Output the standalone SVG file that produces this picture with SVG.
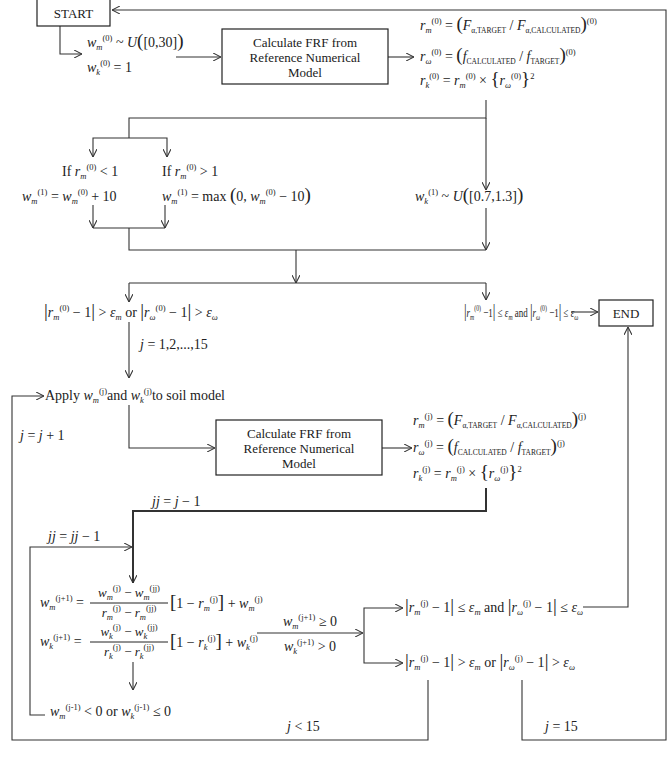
<svg xmlns="http://www.w3.org/2000/svg" width="669" height="766" viewBox="0 0 669 766">
<style>
.bx{fill:#fff;stroke:#222;stroke-width:1.2}
.t{font-family:"Liberation Serif","Times New Roman",serif;font-size:13px;fill:#1a1a1a}
.m{font-family:"Liberation Serif","Times New Roman",serif;font-size:14px;fill:#222}
.f{font-size:13px}
.i{font-style:italic}
.sb{font-size:8.5px;baseline-shift:-3px}
.sp{font-size:8.5px;baseline-shift:6px}
.sc{font-size:7.5px;baseline-shift:-3px}
.bg{font-size:19px}
.s{font-size:12.5px}
.s .sb{font-size:8px;baseline-shift:-3px}
.s .sp{font-size:8px;baseline-shift:5.5px}
.s .bg{font-size:18px}
.c path{fill:none;stroke:#333;stroke-width:1.1}
</style>
<defs>
<marker id="a" viewBox="0 0 10 10" refX="10" refY="5" markerWidth="8" markerHeight="8" markerUnits="userSpaceOnUse" orient="auto">
<path d="M0,0 L10,5 L0,10" fill="none" stroke="#333" stroke-width="1.3"/>
</marker>
</defs>

<g class="c" id="connectors">
<path d="M60 26 V54 H82" marker-end="url(#a)"/>
<path d="M176 57 H221" marker-end="url(#a)"/>
<path d="M388 57 H414" marker-end="url(#a)"/>
<path d="M522 680 V740 H666 V10 H112" marker-end="url(#a)"/>
<path d="M486 100 V118 H129 V138"/>
<path d="M129 138 H93 V157" marker-end="url(#a)"/>
<path d="M129 138 H167 V157" marker-end="url(#a)"/>
<path d="M486 118 V190" marker-end="url(#a)"/>
<path d="M93 205 V228" marker-end="url(#a)"/>
<path d="M165 205 V228" marker-end="url(#a)"/>
<path d="M93 228 H165"/>
<path d="M129 228 V250 H486"/>
<path d="M486 208 V250" marker-end="url(#a)"/>
<path d="M296 250 V283" marker-end="url(#a)"/>
<path d="M129 283 H486"/>
<path d="M129 283 V302" marker-end="url(#a)"/>
<path d="M486 283 V300" marker-end="url(#a)"/>
<path d="M571 312 H598" marker-end="url(#a)"/>
<path d="M129 322 V378" marker-end="url(#a)"/>
<path d="M428 680 V740 H12 V396 H44" marker-end="url(#a)"/>
<path d="M129 405 V448 H215" marker-end="url(#a)"/>
<path d="M382 448 H412" marker-end="url(#a)"/>
<path d="M486 488 V511 H133 V583" style="stroke-width:2" marker-end="url(#a)"/>
<path d="M45 715 H30 V547 H132" marker-end="url(#a)"/>
<path d="M133 662 V690" marker-end="url(#a)"/>
<path d="M257 633 H363" marker-end="url(#a)"/>
<path d="M364 633 V608 H403" marker-end="url(#a)"/>
<path d="M364 633 V663 H403" marker-end="url(#a)"/>
<path d="M583 607 H628 V327" marker-end="url(#a)"/>
</g>

<g id="start">
<rect class="bx" x="37" y="-1" width="73" height="27"/>
<text class="t" x="73.5" y="18" text-anchor="middle">START</text>
</g>

<g id="init">
<text class="m" x="87" y="47"><tspan class="i">w</tspan><tspan class="sb i">m</tspan><tspan class="sp">(0)</tspan> ~ <tspan class="i">U</tspan><tspan class="bg">(</tspan>[0,30]<tspan class="bg">)</tspan></text>
<text class="m" x="87" y="72"><tspan class="i">w</tspan><tspan class="sb i">k</tspan><tspan class="sp">(0)</tspan> = 1</text>
</g>

<g id="calc1">
<rect class="bx" x="222" y="29" width="166" height="55"/>
<text class="t" x="305" y="47" text-anchor="middle">Calculate FRF from</text>
<text class="t" x="305" y="62" text-anchor="middle">Reference Numerical</text>
<text class="t" x="305" y="77" text-anchor="middle">Model</text>
</g>

<g id="ratios0">
<text class="m" x="420" y="30"><tspan class="i">r</tspan><tspan class="sb i">m</tspan><tspan class="sp">(0)</tspan> = <tspan class="bg">(</tspan><tspan class="i">F</tspan><tspan class="sc">α,TARGET</tspan> / <tspan class="i">F</tspan><tspan class="sc">α,CALCULATED</tspan><tspan class="bg">)</tspan><tspan class="sp">(0)</tspan></text>
<text class="m" x="420" y="61"><tspan class="i">r</tspan><tspan class="sb i">ω</tspan><tspan class="sp">(0)</tspan> = <tspan class="bg">(</tspan><tspan class="i">f</tspan><tspan class="sc">CALCULATED</tspan> / <tspan class="i">f</tspan><tspan class="sc">TARGET</tspan><tspan class="bg">)</tspan><tspan class="sp">(0)</tspan></text>
<text class="m" x="420" y="85"><tspan class="i">r</tspan><tspan class="sb i">k</tspan><tspan class="sp">(0)</tspan> = <tspan class="i">r</tspan><tspan class="sb i">m</tspan><tspan class="sp">(0)</tspan> × <tspan class="bg">{</tspan><tspan class="i">r</tspan><tspan class="sb i">ω</tspan><tspan class="sp">(0)</tspan><tspan class="bg">}</tspan><tspan class="sp">2</tspan></text>
</g>

<g id="branch-lt">
<text class="m" x="62" y="176">If <tspan class="i">r</tspan><tspan class="sb i">m</tspan><tspan class="sp">(0)</tspan> &lt; 1</text>
<text class="m" x="22" y="201"><tspan class="i">w</tspan><tspan class="sb i">m</tspan><tspan class="sp">(1)</tspan> = <tspan class="i">w</tspan><tspan class="sb i">m</tspan><tspan class="sp">(0)</tspan> + 10</text>
</g>

<g id="branch-gt">
<text class="m" x="162" y="176">If <tspan class="i">r</tspan><tspan class="sb i">m</tspan><tspan class="sp">(0)</tspan> &gt; 1</text>
<text class="m" x="162" y="201"><tspan class="i">w</tspan><tspan class="sb i">m</tspan><tspan class="sp">(1)</tspan> = max <tspan class="bg">(</tspan>0, <tspan class="i">w</tspan><tspan class="sb i">m</tspan><tspan class="sp">(0)</tspan> − 10<tspan class="bg">)</tspan></text>
</g>

<g id="wk1">
<text class="m" x="415" y="201"><tspan class="i">w</tspan><tspan class="sb i">k</tspan><tspan class="sp">(1)</tspan> ~ <tspan class="i">U</tspan><tspan class="bg">(</tspan>[0.7,1.3]<tspan class="bg">)</tspan></text>
</g>

<g id="cond0-fail">
<text class="m" x="44" y="317"><tspan class="bg">|</tspan><tspan class="i">r</tspan><tspan class="sb i">m</tspan><tspan class="sp">(0)</tspan> − 1<tspan class="bg">|</tspan> &gt; <tspan class="i">ε</tspan><tspan class="sb i">m</tspan> or <tspan class="bg">|</tspan><tspan class="i">r</tspan><tspan class="sb i">ω</tspan><tspan class="sp">(0)</tspan> − 1<tspan class="bg">|</tspan> &gt; <tspan class="i">ε</tspan><tspan class="sb i">ω</tspan></text>
</g>

<g id="cond0-ok" transform="translate(464 317) scale(0.72 1)">
<text class="m s" x="0" y="0"><tspan class="bg">|</tspan><tspan class="i">r</tspan><tspan class="sb i">m</tspan><tspan class="sp">(0)</tspan> −1<tspan class="bg">|</tspan> ≤ <tspan class="i">ε</tspan><tspan class="sb i">m</tspan> and <tspan class="bg">|</tspan><tspan class="i">r</tspan><tspan class="sb i">ω</tspan><tspan class="sp">(0)</tspan> −1<tspan class="bg">|</tspan> ≤ <tspan class="i">ε</tspan><tspan class="sb i">ω</tspan></text>
</g>

<g id="end">
<rect class="bx" x="599" y="300" width="54" height="26"/>
<text class="t" x="626" y="318" text-anchor="middle">END</text>
</g>

<g id="labels">
<text class="m" x="140" y="349"><tspan class="i">j</tspan> = 1,2,...,15</text>
<text class="m" x="20" y="440"><tspan class="i">j</tspan> = <tspan class="i">j</tspan> + 1</text>
<text class="m" x="152" y="506"><tspan class="i">jj</tspan> = <tspan class="i">j</tspan> − 1</text>
<text class="m" x="48" y="541"><tspan class="i">jj</tspan> = <tspan class="i">jj</tspan> − 1</text>
<text class="m" x="287" y="731"><tspan class="i">j</tspan> &lt; 15</text>
<text class="m" x="545" y="731"><tspan class="i">j</tspan> = 15</text>
</g>

<g id="apply">
<text class="m" x="45" y="400">Apply <tspan class="i">w</tspan><tspan class="sb i">m</tspan><tspan class="sp">(j)</tspan>and <tspan class="i">w</tspan><tspan class="sb i">k</tspan><tspan class="sp">(j)</tspan>to soil model</text>
</g>

<g id="calc2">
<rect class="bx" x="216" y="420" width="166" height="55"/>
<text class="t" x="299" y="438" text-anchor="middle">Calculate FRF from</text>
<text class="t" x="299" y="453" text-anchor="middle">Reference Numerical</text>
<text class="t" x="299" y="468" text-anchor="middle">Model</text>
</g>

<g id="ratiosj">
<text class="m" x="413" y="425"><tspan class="i">r</tspan><tspan class="sb i">m</tspan><tspan class="sp">(j)</tspan> = <tspan class="bg">(</tspan><tspan class="i">F</tspan><tspan class="sc">α,TARGET</tspan> / <tspan class="i">F</tspan><tspan class="sc">α,CALCULATED</tspan><tspan class="bg">)</tspan><tspan class="sp">(j)</tspan></text>
<text class="m" x="413" y="452"><tspan class="i">r</tspan><tspan class="sb i">ω</tspan><tspan class="sp">(j)</tspan> = <tspan class="bg">(</tspan><tspan class="i">f</tspan><tspan class="sc">CALCULATED</tspan> / <tspan class="i">f</tspan><tspan class="sc">TARGET</tspan><tspan class="bg">)</tspan><tspan class="sp">(j)</tspan></text>
<text class="m" x="413" y="478"><tspan class="i">r</tspan><tspan class="sb i">k</tspan><tspan class="sp">(j)</tspan> = <tspan class="i">r</tspan><tspan class="sb i">m</tspan><tspan class="sp">(j)</tspan> × <tspan class="bg">{</tspan><tspan class="i">r</tspan><tspan class="sb i">ω</tspan><tspan class="sp">(j)</tspan><tspan class="bg">}</tspan><tspan class="sp">2</tspan></text>
</g>

<g id="update">
<text class="m" x="40" y="607"><tspan class="i">w</tspan><tspan class="sb i">m</tspan><tspan class="sp">(j+1)</tspan> =</text>
<text class="m f" x="129" y="597" text-anchor="middle"><tspan class="i">w</tspan><tspan class="sb i">m</tspan><tspan class="sp">(j)</tspan> − <tspan class="i">w</tspan><tspan class="sb i">m</tspan><tspan class="sp">(jj)</tspan></text>
<path d="M90 603 H168" stroke="#222" stroke-width="1"/>
<text class="m f" x="129" y="617" text-anchor="middle"><tspan class="i">r</tspan><tspan class="sb i">m</tspan><tspan class="sp">(j)</tspan> − <tspan class="i">r</tspan><tspan class="sb i">m</tspan><tspan class="sp">(jj)</tspan></text>
<text class="m" x="170" y="608"><tspan class="bg">[</tspan>1 − <tspan class="i">r</tspan><tspan class="sb i">m</tspan><tspan class="sp">(j)</tspan><tspan class="bg">]</tspan> + <tspan class="i">w</tspan><tspan class="sb i">m</tspan><tspan class="sp">(j)</tspan></text>
<text class="m" x="40" y="646"><tspan class="i">w</tspan><tspan class="sb i">k</tspan><tspan class="sp">(j+1)</tspan> =</text>
<text class="m f" x="129" y="636" text-anchor="middle"><tspan class="i">w</tspan><tspan class="sb i">k</tspan><tspan class="sp">(j)</tspan> − <tspan class="i">w</tspan><tspan class="sb i">k</tspan><tspan class="sp">(jj)</tspan></text>
<path d="M90 642 H168" stroke="#222" stroke-width="1"/>
<text class="m f" x="129" y="656" text-anchor="middle"><tspan class="i">r</tspan><tspan class="sb i">k</tspan><tspan class="sp">(j)</tspan> − <tspan class="i">r</tspan><tspan class="sb i">k</tspan><tspan class="sp">(jj)</tspan></text>
<text class="m" x="170" y="647"><tspan class="bg">[</tspan>1 − <tspan class="i">r</tspan><tspan class="sb i">k</tspan><tspan class="sp">(j)</tspan><tspan class="bg">]</tspan> + <tspan class="i">w</tspan><tspan class="sb i">k</tspan><tspan class="sp">(j)</tspan></text>
</g>

<g id="neg">
<text class="m" x="50" y="716"><tspan class="i">w</tspan><tspan class="sb i">m</tspan><tspan class="sp">(j-1)</tspan> &lt; 0 or <tspan class="i">w</tspan><tspan class="sb i">k</tspan><tspan class="sp">(j-1)</tspan> ≤ 0</text>
</g>

<g id="pos">
<text class="m" x="310" y="626" text-anchor="middle"><tspan class="i">w</tspan><tspan class="sb i">m</tspan><tspan class="sp">(j+1)</tspan> ≥ 0</text>
<text class="m" x="310" y="651" text-anchor="middle"><tspan class="i">w</tspan><tspan class="sb i">k</tspan><tspan class="sp">(j+1)</tspan> &gt; 0</text>
</g>

<g id="condj-ok">
<text class="m" x="405" y="612"><tspan class="bg">|</tspan><tspan class="i">r</tspan><tspan class="sb i">m</tspan><tspan class="sp">(j)</tspan> − 1<tspan class="bg">|</tspan> ≤ <tspan class="i">ε</tspan><tspan class="sb i">m</tspan> and <tspan class="bg">|</tspan><tspan class="i">r</tspan><tspan class="sb i">ω</tspan><tspan class="sp">(j)</tspan> − 1<tspan class="bg">|</tspan> ≤ <tspan class="i">ε</tspan><tspan class="sb i">ω</tspan></text>
</g>

<g id="condj-fail">
<text class="m" x="405" y="667"><tspan class="bg">|</tspan><tspan class="i">r</tspan><tspan class="sb i">m</tspan><tspan class="sp">(j)</tspan> − 1<tspan class="bg">|</tspan> &gt; <tspan class="i">ε</tspan><tspan class="sb i">m</tspan> or <tspan class="bg">|</tspan><tspan class="i">r</tspan><tspan class="sb i">ω</tspan><tspan class="sp">(j)</tspan> − 1<tspan class="bg">|</tspan> &gt; <tspan class="i">ε</tspan><tspan class="sb i">ω</tspan></text>
</g>
</svg>
